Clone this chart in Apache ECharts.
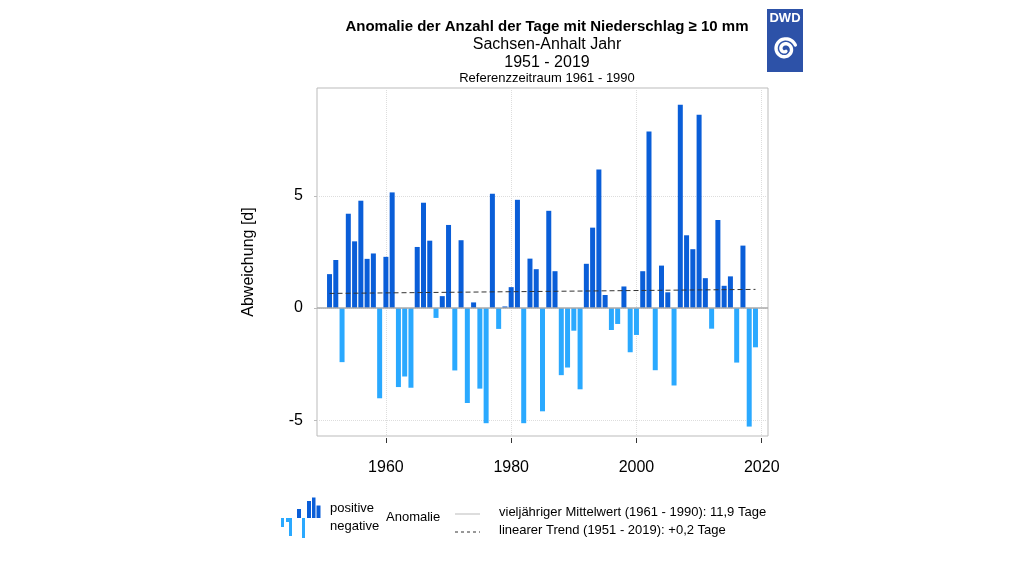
<html>
<meta charset="utf-8">
<body style="margin:0;background:#fff">
    <div id="main" style="width:1024px;height:576px;"></div>
</body>
</html>
<script type="text/javascript" src="https://cdn.jsdelivr.net/npm/echarts@6/dist/echarts.min.js"></script>
<script type="text/javascript">

var years = [1951,1952,1953,1954,1955,1956,1957,1958,1959,1960,
             1961,1962,1963,1964,1965,1966,1967,1968,1969,1970,
             1971,1972,1973,1974,1975,1976,1977,1978,1979,1980,
             1981,1982,1983,1984,1985,1986,1987,1988,1989,1990,
             1991,1992,1993,1994,1995,1996,1997,1998,1999,2000,
             2001,2002,2003,2004,2005,2006,2007,2008,2009,2010,
             2011,2012,2013,2014,2015,2016,2017,2018,2019];
var anomalies = [1.51,2.14,-2.41,4.20,2.97,4.78,2.19,2.43,-4.02,2.28,
                 5.15,-3.52,-3.05,-3.55,2.72,4.69,3.00,-0.44,0.53,3.70,
                 -2.78,3.02,-4.23,0.25,-3.59,-5.13,5.09,-0.93,0.07,0.93,
                 4.82,-5.13,2.20,1.73,-4.60,4.33,1.64,-2.99,-2.65,-1.01,
                 -3.62,1.97,3.58,6.17,0.58,-0.98,-0.71,0.96,-1.97,-1.20,
                 1.64,7.86,-2.77,1.89,0.70,-3.45,9.05,3.24,2.62,8.61,
                 1.33,-0.92,3.92,0.99,1.41,-2.43,2.78,-5.28,-1.75];
var trendYears = [1951, 2019];
var trendValues = [0.65, 0.83];
var xTicks = [1960, 1980, 2000, 2020];
var yTicks = [-5, 0, 5];

var posColor = '#0a5ed8';
var negColor = '#2aa9ff';
var font = "'Liberation Sans', Arial, sans-serif";

var barData = [];
for (var i = 0; i < years.length; i++) {
    barData.push([years[i], anomalies[i]]);
}
var trendData = [];
for (var j = 0; j < trendYears.length; j++) {
    trendData.push([trendYears[j], trendValues[j]]);
}

// spiral for the logo (decoration only)
var spiral = [];
for (var k = 0; k <= 90; k++) {
    var a = k / 90 * Math.PI * 3.5;
    var r = 2.5 + a * 0.78;
    spiral.push([785 + r * Math.cos(a + 1.2), 49 + r * Math.sin(a + 1.2)]);
}

var myChart = echarts.init(document.getElementById('main'));
var option = {
    backgroundColor: '#fff',
    animation: false,
    textStyle: {fontFamily: font},
    title: [
        {text: 'Anomalie der Anzahl der Tage mit Niederschlag \u2265 10 mm', left: 542, top: 14, textAlign: 'center',
         textStyle: {fontSize: 15, fontWeight: 'bold', color: '#000', fontFamily: font}},
        {text: 'Sachsen-Anhalt Jahr', left: 542, top: 32, textAlign: 'center',
         textStyle: {fontSize: 16, fontWeight: 'normal', color: '#000', fontFamily: font}},
        {text: '1951 - 2019', left: 542, top: 50, textAlign: 'center',
         textStyle: {fontSize: 16, fontWeight: 'normal', color: '#000', fontFamily: font}},
        {text: 'Referenzzeitraum 1961 - 1990', left: 542, top: 67, textAlign: 'center',
         textStyle: {fontSize: 13, fontWeight: 'normal', color: '#000', fontFamily: font}}
    ],
    grid: {
        left: 317, top: 88, width: 451, height: 348,
        show: true, borderColor: '#bbb', borderWidth: 1, backgroundColor: 'transparent'
    },
    xAxis: {
        type: 'value', min: 1949, max: 2021,
        offset: 2,
        axisLine: {show: false, onZero: false},
        axisTick: {show: true, length: 5, customValues: xTicks, lineStyle: {color: '#333'}},
        axisLabel: {customValues: xTicks, fontSize: 16, color: '#000', margin: 22, fontFamily: font,
                    formatter: function (v) { return String(v); }},
        splitLine: {show: true, lineStyle: {color: '#ddd', type: 'dotted'}}
    },
    yAxis: {
        type: 'value', min: -5.7, max: 9.8,
        name: 'Abweichung [d]', nameLocation: 'middle', nameGap: 60,
        nameTextStyle: {fontSize: 16, color: '#000', fontFamily: font},
        axisLine: {show: false},
        axisTick: {show: true, length: 3, customValues: yTicks, lineStyle: {color: '#bbb'}},
        axisLabel: {customValues: yTicks, fontSize: 16, color: '#000', margin: 14, fontFamily: font},
        splitLine: {show: true, lineStyle: {color: '#ddd', type: 'dotted'}}
    },
    series: [
        {
            name: 'Anomalie',
            type: 'bar',
            barWidth: 5,
            data: barData,
            itemStyle: {
                color: function (p) { return p.value[1] >= 0 ? posColor : negColor; }
            },
            markLine: {
                silent: true, symbol: 'none', label: {show: false},
                lineStyle: {color: '#aaa', type: 'solid', width: 1.5},
                data: [{yAxis: 0}]
            },
            z: 3
        },
        {
            name: 'Trend',
            type: 'line',
            data: trendData,
            symbol: 'none',
            lineStyle: {color: '#333', type: [5, 3], width: 1},
            z: 4
        }
    ],
    graphic: [
        // DWD logo
        {type: 'rect', shape: {x: 767, y: 9, width: 36, height: 63}, style: {fill: '#2d52a8'}},
        {type: 'text', x: 785, y: 12, style: {text: 'DWD', fill: '#fff', font: 'bold 13px ' + font, textAlign: 'center'}},
        {type: 'polyline', shape: {points: spiral}, style: {stroke: '#fff', lineWidth: 3.4, fill: null, lineCap: 'round'}},
        // legend icon
        {type: 'rect', shape: {x: 281, y: 518, width: 3, height: 9}, style: {fill: negColor}},
        {type: 'rect', shape: {x: 286, y: 518, width: 3, height: 4}, style: {fill: negColor}},
        {type: 'rect', shape: {x: 289, y: 518, width: 3, height: 18}, style: {fill: negColor}},
        {type: 'rect', shape: {x: 302, y: 518, width: 3, height: 20}, style: {fill: negColor}},
        {type: 'rect', shape: {x: 297, y: 509, width: 4, height: 9}, style: {fill: posColor}},
        {type: 'rect', shape: {x: 307, y: 501, width: 4, height: 17}, style: {fill: posColor}},
        {type: 'rect', shape: {x: 312, y: 497.5, width: 3.5, height: 20.5}, style: {fill: posColor}},
        {type: 'rect', shape: {x: 316.5, y: 505.5, width: 4, height: 12.5}, style: {fill: posColor}},
        {type: 'text', x: 330, y: 502, style: {text: 'positive', fill: '#000', font: '13px ' + font}},
        {type: 'text', x: 330, y: 520, style: {text: 'negative', fill: '#000', font: '13px ' + font}},
        {type: 'text', x: 386, y: 511, style: {text: 'Anomalie', fill: '#000', font: '13px ' + font}},
        {type: 'line', shape: {x1: 455, y1: 514, x2: 480, y2: 514}, style: {stroke: '#bbb', lineWidth: 1}},
        {type: 'line', shape: {x1: 455, y1: 532, x2: 480, y2: 532}, style: {stroke: '#333', lineWidth: 1, lineDash: [3, 3]}},
        {type: 'text', x: 499, y: 506, style: {text: 'vielj\u00e4hriger Mittelwert (1961 - 1990): 11,9 Tage', fill: '#000', font: '13px ' + font}},
        {type: 'text', x: 499, y: 524, style: {text: 'linearer Trend (1951 - 2019): +0,2 Tage', fill: '#000', font: '13px ' + font}}
    ]
};
myChart.setOption(option);
</script>
